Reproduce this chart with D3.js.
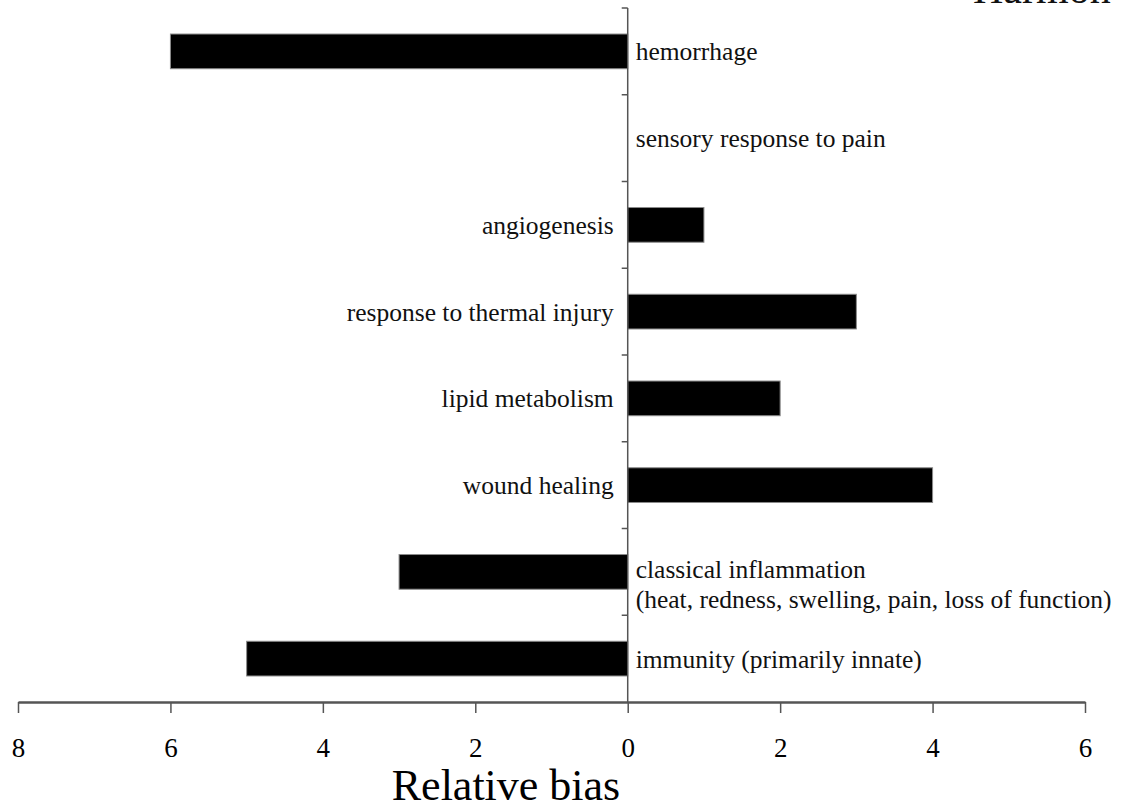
<!DOCTYPE html>
<html>
<head>
<meta charset="utf-8">
<script src="https://cdn.jsdelivr.net/npm/d3@7"></script>
<style>
  html, body { margin: 0; padding: 0; background: #fff; }
  svg { display: block; }
  svg text { font-family: "Liberation Serif", "DejaVu Serif", serif; }
</style>
</head>
<body>
<svg id="chart"></svg>
<script>
    'use strict';

    // categories from top to bottom, label lines and relative bias values
    var categories = ['hemorrhage', 'sensory', 'angiogenesis', 'thermal', 'lipid', 'wound', 'classical', 'immunity'];
    var labels = [
        ['hemorrhage'],
        ['sensory response to pain'],
        ['angiogenesis'],
        ['response to thermal injury'],
        ['lipid metabolism'],
        ['wound healing'],
        ['classical inflammation', '(heat, redness, swelling, pain, loss of function)'],
        ['immunity (primarily innate)']
    ];
    var values = [-6, 0, 1, 3, 2, 4, -3, -5];
    var xTicks = [-8, -6, -4, -2, 0, 2, 4, 6];
    var axisTitle = 'Relative bias';
    var cornerTitle = 'Harmon';

    var width = 1125, height = 810;

    var svg = d3.select('#chart')
        .attr('width', width)
        .attr('height', height);

    var scaleX = d3.scaleLinear()
        .domain([-8, 6])
        .range([18, 1085]);

    var scaleY = d3.scaleBand()
        .domain(categories)
        .range([8, 702])
        .paddingInner(0.6)
        .paddingOuter(0.3);

    var step = scaleY.step();

    // bars
    svg.append('g')
        .selectAll('rect')
        .data(values)
        .enter().append('rect')
        .attr('x', function (d) { return scaleX(Math.min(0, d)); })
        .attr('y', function (d, i) { return scaleY(categories[i]); })
        .attr('width', function (d) { return Math.abs(scaleX(d) - scaleX(0)); })
        .attr('height', scaleY.bandwidth())
        .attr('fill', '#000')
        .attr('stroke', '#8a8a8a')
        .attr('stroke-width', function (d) { return d === 0 ? 0 : 1; });

    // vertical axis at zero with ticks between categories
    var y0 = scaleY.range()[0], y1 = scaleY.range()[1];
    var boundaries = d3.range(categories.length).map(function (i) { return y0 + i * step; });

    svg.append('line')
        .attr('x1', scaleX(0)).attr('x2', scaleX(0))
        .attr('y1', y0).attr('y2', y1)
        .attr('stroke', '#555')
        .attr('stroke-width', 1.5);

    svg.append('g')
        .selectAll('line')
        .data(boundaries)
        .enter().append('line')
        .attr('x1', scaleX(0) - 6).attr('x2', scaleX(0))
        .attr('y1', function (d) { return d; })
        .attr('y2', function (d) { return d; })
        .attr('stroke', '#555')
        .attr('stroke-width', 1.5);

    // bottom axis
    var xAxis = svg.append('g')
        .attr('transform', 'translate(0,' + y1 + ')')
        .call(d3.axisBottom(scaleX)
            .tickValues(xTicks)
            .tickSize(11)
            .tickPadding(25)
            .tickSizeOuter(0)
            .tickFormat(function (d) { return Math.abs(d); }));

    xAxis.select('.domain').attr('stroke', '#555').attr('stroke-width', 2.5);
    xAxis.selectAll('.tick line').attr('stroke', '#555').attr('stroke-width', 1.5);
    xAxis.selectAll('.tick text')
        .attr('fill', '#000')
        .attr('font-family', null)
        .attr('font-size', 27);

    // category labels: right of the axis for negatives/zero, left for positives
    var labelGroup = svg.append('g');
    labels.forEach(function (lines, i) {
        var right = values[i] <= 0;
        var cy = scaleY(categories[i]) + scaleY.bandwidth() / 2;
        var lineH = 30;
        var start = cy - (lines.length - 1) * lineH * 0.1;
        var lx = right ? scaleX(0) + 8 : scaleX(0) - 14;
        var t = labelGroup.append('text')
            .attr('text-anchor', right ? 'start' : 'end')
            .attr('font-size', 25.5)
            .attr('fill', '#111');
        lines.forEach(function (s, j) {
            t.append('tspan')
                .attr('x', lx)
                .attr('y', start + j * lineH)
                .attr('dy', '0.35em')
                .text(s);
        });
    });

    // axis title
    svg.append('text')
        .attr('x', 506)
        .attr('y', 800)
        .attr('text-anchor', 'middle')
        .attr('font-size', 44)
        .attr('fill', '#000')
        .text(axisTitle);

    // clipped title at the top right corner
    svg.append('text')
        .attr('x', 973)
        .attr('y', 3)
        .attr('font-size', 42)
        .attr('fill', '#111')
        .text(cornerTitle);
</script>
</body>
</html>
